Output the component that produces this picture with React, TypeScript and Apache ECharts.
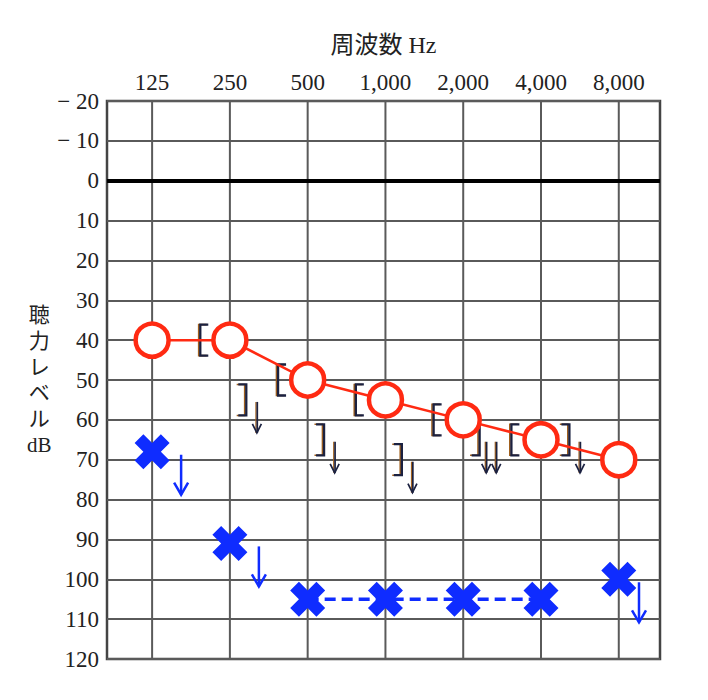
import React, { useEffect, useRef } from "react";
import * as echarts from "echarts";

// ---- data ----
const FREQ_LABELS = ["125", "250", "500", "1,000", "2,000", "4,000", "8,000"];
const FREQ_IDX = [0, 1, 2, 3, 4, 5, 6];
const DB_MIN = -20;
const DB_MAX = 120;
const DB_STEP = 10;

// right ear air conduction (O)
const RIGHT_AIR = [40, 40, 50, 55, 60, 65, 70];
// left ear air conduction (X)
const LEFT_AIR = [68, 91, 105, 105, 105, 105, 100];
const LEFT_AIR_SCALE_OUT = [1, 1, 0, 0, 0, 0, 1];
const LEFT_AIR_LINKED_IDX = [2, 3, 4, 5];
// right ear masked bone conduction ([)
const RIGHT_BONE_IDX = [1, 2, 3, 4, 5];
const RIGHT_BONE = [40, 50, 55, 60, 65];
// left ear masked bone conduction (]) with scale-out arrows
const LEFT_BONE_IDX = [1, 2, 3, 4, 5];
const LEFT_BONE = [55, 65, 70, 65, 65];
const LEFT_BONE_ARROWS = [1, 1, 1, 2, 1];

const RED = "#ff2a12";
const BLUE = "#0f2cff";
const TEXT = "#222";
const GRIDC = "#5a5a5a";
const FONT = "'Liberation Serif', 'Noto Sans CJK JP', serif";

const X_SYMBOL =
  "path://M5,0 L10,5 L15,0 L20,5 L15,10 L20,15 L15,20 L10,15 L5,20 L0,15 L5,10 L0,5 Z";

function bracket(cx: number, cy: number, open: "left" | "right") {
  const h = 15.5;
  const w = 4;
  const pts = (dx: number) =>
    open === "left"
      ? [
          [cx + w + dx, cy - h],
          [cx - w + dx, cy - h],
          [cx - w + dx, cy + h],
          [cx + w + dx, cy + h],
        ]
      : [
          [cx - w + dx, cy - h],
          [cx + w + dx, cy - h],
          [cx + w + dx, cy + h],
          [cx - w + dx, cy + h],
        ];
  return [
    {
      type: "polyline",
      shape: { points: pts(-1.2) },
      style: { stroke: "#a0601e", lineWidth: 1.6, fill: "none" },
    },
    {
      type: "polyline",
      shape: { points: pts(0.4) },
      style: { stroke: "#1b2140", lineWidth: 2.3, fill: "none" },
    },
  ];
}

function blackArrow(ax: number, cy: number) {
  const top = cy + 2;
  const bot = cy + 33;
  return [
    {
      type: "line",
      shape: { x1: ax - 0.9, y1: top, x2: ax - 0.9, y2: bot },
      style: { stroke: "#a0601e", lineWidth: 1.3 },
    },
    {
      type: "line",
      shape: { x1: ax + 0.4, y1: top, x2: ax + 0.4, y2: bot },
      style: { stroke: "#1b2140", lineWidth: 1.7 },
    },
    {
      type: "polyline",
      shape: { points: [[ax - 4.5, bot - 9], [ax, bot], [ax + 4.5, bot - 9]] },
      style: { stroke: "#1b2140", lineWidth: 1.7, fill: "none" },
    },
  ];
}

export default function App() {
  const ref = useRef<HTMLDivElement>(null);

  useEffect(() => {
    if (!ref.current) return;
    const chart = echarts.init(ref.current, null, { renderer: "svg" });

    const option: any = {
      animation: false,
      backgroundColor: "#fff",
      textStyle: { fontFamily: FONT },
      grid: {
        left: 107,
        top: 101,
        right: 48,
        bottom: 41,
        show: true,
        borderColor: "#444",
        borderWidth: 2.5,
        backgroundColor: "transparent",
      },
      xAxis: {
        type: "value",
        position: "top",
        min: -0.58,
        max: 6.53,
        name: "周波数 Hz",
        nameLocation: "middle",
        nameGap: 44,
        nameTextStyle: { fontSize: 24, color: TEXT, fontFamily: FONT },
        axisLine: { show: false },
        axisTick: { show: false },
        splitLine: { show: false },
        axisLabel: {
          customValues: FREQ_IDX,
          formatter: (v: number) => FREQ_LABELS[Math.round(v)] ?? "",
          fontSize: 23,
          color: TEXT,
          margin: 7,
          fontFamily: FONT,
        },
      },
      yAxis: {
        type: "value",
        inverse: true,
        min: DB_MIN,
        max: DB_MAX,
        interval: DB_STEP,
        name: "聴\n力\nレ\nベ\nル\ndB",
        nameLocation: "middle",
        nameGap: 53,
        nameRotate: 0,
        nameTextStyle: {
          fontSize: 21,
          lineHeight: 26,
          color: TEXT,
          fontFamily: FONT,
          align: "center",
        },
        axisLine: { show: false },
        axisTick: { show: false },
        splitLine: { show: true, lineStyle: { color: GRIDC, width: 2 } },
        axisLabel: {
          fontSize: 23,
          color: TEXT,
          margin: 8,
          fontFamily: FONT,
          formatter: (v: number) => (v < 0 ? "− " + Math.abs(v) : String(v)),
        },
      },
      series: [
        {
          // vertical frequency grid lines
          type: "custom",
          z: 1,
          silent: true,
          data: FREQ_IDX.map((i) => [i, DB_MIN]),
          renderItem: (_p: any, api: any) => {
            const a = api.coord([api.value(0), DB_MIN]);
            const b = api.coord([api.value(0), DB_MAX]);
            return {
              type: "line",
              shape: { x1: a[0], y1: a[1], x2: b[0], y2: b[1] },
              style: { stroke: GRIDC, lineWidth: 2 },
            };
          },
        },
        {
          // 0 dB reference line
          type: "line",
          z: 2,
          data: [],
          markLine: {
            silent: true,
            symbol: "none",
            label: { show: false },
            lineStyle: { color: "#000", width: 4, type: "solid" },
            data: [{ yAxis: 0 }],
          },
        },
        {
          // right ear masked bone "["
          type: "custom",
          z: 3,
          silent: true,
          data: RIGHT_BONE_IDX.map((i, k) => [i, RIGHT_BONE[k]]),
          renderItem: (_p: any, api: any) => {
            const c = api.coord([api.value(0), api.value(1)]);
            return { type: "group", children: bracket(c[0] - 26, c[1], "left") };
          },
        },
        {
          // left ear masked bone "]" with scale-out arrows
          type: "custom",
          z: 3,
          silent: true,
          data: LEFT_BONE_IDX.map((i, k) => [i, LEFT_BONE[k], LEFT_BONE_ARROWS[k]]),
          renderItem: (_p: any, api: any) => {
            const idx = api.value(0);
            const val = api.value(1);
            const n = api.value(2);
            const c = api.coord([idx, val]);
            const nearCircle = Math.abs(RIGHT_AIR[Math.round(idx)] - val) < 5;
            const bx = c[0] + (nearCircle ? 24 : 12);
            const children: any[] = bracket(bx, c[1], "right");
            if (n === 1) {
              children.push(...blackArrow(bx + 15, c[1]));
            } else {
              for (let j = 0; j < n; j++) children.push(...blackArrow(bx + 11 + j * 10, c[1]));
            }
            return { type: "group", children };
          },
        },
        {
          // left ear scale-out arrows (blue)
          type: "custom",
          z: 4,
          silent: true,
          clip: false,
          data: FREQ_IDX.filter((i) => LEFT_AIR_SCALE_OUT[i]).map((i) => [i, LEFT_AIR[i]]),
          renderItem: (p: any, api: any) => {
            const c = api.coord([api.value(0), api.value(1)]);
            const right = p.coordSys.x + p.coordSys.width;
            const ax = Math.min(c[0] + 29, right - 21);
            const top = c[1] + 3;
            const bot = c[1] + 43;
            return {
              type: "group",
              children: [
                {
                  type: "line",
                  shape: { x1: ax, y1: top, x2: ax, y2: bot },
                  style: { stroke: BLUE, lineWidth: 2.5 },
                },
                {
                  type: "polyline",
                  shape: { points: [[ax - 7, bot - 12], [ax, bot], [ax + 7, bot - 12]] },
                  style: { stroke: BLUE, lineWidth: 2.5, fill: "none" },
                },
              ],
            };
          },
        },
        {
          // left ear dashed connection
          type: "line",
          z: 5,
          silent: true,
          symbol: "none",
          data: LEFT_AIR_LINKED_IDX.map((i) => [i, LEFT_AIR[i]]),
          lineStyle: { color: BLUE, width: 3.5, type: [11, 6] },
        },
        {
          // left ear air X
          type: "scatter",
          z: 6,
          silent: true,
          symbol: X_SYMBOL,
          symbolSize: 35,
          itemStyle: { color: BLUE, opacity: 1 },
          data: FREQ_IDX.map((i) => [i, LEFT_AIR[i]]),
        },
        {
          // right ear air O
          type: "line",
          z: 7,
          silent: true,
          symbol: "circle",
          symbolSize: 33,
          showAllSymbol: true,
          lineStyle: { color: RED, width: 2.5 },
          itemStyle: { color: "#fff", borderColor: RED, borderWidth: 4.5 },
          data: FREQ_IDX.map((i) => [i, RIGHT_AIR[i]]),
        },
      ],
    };

    chart.setOption(option);
    return () => chart.dispose();
  }, []);

  return (
    <div
      ref={ref}
      style={{ position: "fixed", left: 0, top: 0, width: 708, height: 700, background: "#fff" }}
    />
  );
}
